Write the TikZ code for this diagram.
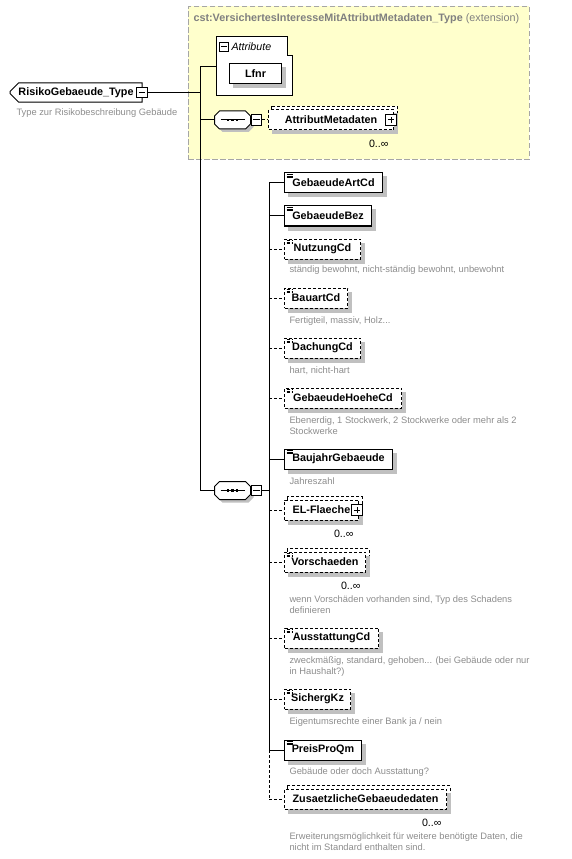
\documentclass[tikz,border=0pt]{standalone}
\usepackage{fontspec}
\setmainfont{Liberation Sans}
\usetikzlibrary{positioning, shapes.misc, backgrounds}

\definecolor{extfill}{HTML}{FFFFCC}
\definecolor{extline}{HTML}{A6A6A6}
\definecolor{shadegrey}{RGB}{192,192,192}
\definecolor{titlegray}{HTML}{808080}
\definecolor{notegray}{HTML}{8C8C8C}

% outline of a sequence compositor, cut corners
\newcommand{\seqoutline}[1]{%
    ([xshift=3.75pt]#1.north west) -- ([xshift=-3.75pt]#1.north east)
    -- ([yshift=-3.75pt]#1.north east) -- ([yshift=3.75pt]#1.south east)
    -- ([xshift=-3.75pt]#1.south east) -- ([xshift=3.75pt]#1.south west)
    -- ([yshift=3.75pt]#1.south west) -- ([yshift=-3.75pt]#1.north west) -- cycle}

\begin{document}
\begin{tikzpicture}[
    x=0.75pt, y=-0.75pt,
    line width=0.75pt,
    optional/.style={dash pattern=on 2.25pt off 1.5pt},
    elembox/.style={
        draw=black, fill=white, anchor=west, inner sep=0pt,
        minimum width=#1, minimum height=15pt,
        font=\fontsize{8.1}{9.7}\selectfont\bfseries
    },
    simple/.style={
        path picture={
            \foreach \k in {0,1,2}
                \draw[black, line width=0.6pt]
                    ([xshift=1.5pt, yshift={-(1.1+1.2*\k)*1pt}]path picture bounding box.north west)
                    -- ++(4.5pt,0pt);
        }
    },
    togglebox/.style={draw=black, fill=white, minimum size=8pt, inner sep=0pt},
    minusbox/.style={togglebox,
        path picture={
            \draw[black] ([xshift=-2.4pt]path picture bounding box.center)
                -- ([xshift=2.4pt]path picture bounding box.center);
        }
    },
    plusbox/.style={togglebox,
        path picture={
            \draw[black] ([xshift=-2.4pt]path picture bounding box.center)
                -- ([xshift=2.4pt]path picture bounding box.center);
            \draw[black] ([yshift=-2.4pt]path picture bounding box.center)
                -- ([yshift=2.4pt]path picture bounding box.center);
        }
    },
    seqbox/.style={
        inner sep=0pt, minimum width=26.25pt, minimum height=12.75pt
    },
    typebox/.style={
        chamfered rectangle, chamfered rectangle xsep=3pt,
        chamfered rectangle corners={north west,south west},
        draw=black, fill=white, inner sep=0pt,
        minimum width=99pt, minimum height=14.25pt,
        font=\fontsize{8.1}{9.7}\selectfont\bfseries
    },
    extbox/.style={
        draw=extline, fill=extfill, dash pattern=on 4pt off 2pt,
        anchor=north west, inner sep=0pt,
        minimum width=255.75pt, minimum height=114.75pt
    },
    shadowbox/.style={fill=shadegrey, draw=none},
    descbox/.style={
        anchor=north west, inner sep=0pt, align=left, text=notegray,
        font=\fontsize{7}{8.25}\selectfont
    },
    occlabel/.style={anchor=east, inner sep=0pt, font=\fontsize{8}{9.6}\selectfont}
]
\useasboundingbox (0,0) rectangle (571,859);

% extension title
\node[anchor=west, inner sep=0pt, text=titlegray, font=\fontsize{8.1}{9.7}\selectfont]
    (exttitle) at (193,19)
    {\textbf{cst:VersichertesInteresseMitAttributMetadaten\_Type} (extension)};

% root type
\node[typebox] (type) at (76,92.5) {RisikoGebaeude\_Type\hspace{8pt}};
\node[minusbox] (typeminus) at (142,92.5) {};
\node[descbox] (typedesc) at (16,108.5) {Type zur Risikobeschreibung Gebäude};

% attributes
\coordinate (attr) at (216,67);
\node[minusbox, minimum size=6.4pt] (attrminus) at (224,47) {};
\node[anchor=west, inner sep=0pt, font=\fontsize{8}{9.6}\selectfont\itshape]
    (attrlabel) at (231,47) {Attribute};
\node[elembox=39pt] (lfnr) at (229,74) {Lfnr};

% sequences
\node[seqbox] (seqa) at (232.5,120) {};
\node[seqbox] (seqb) at (232.5,490.5) {};
\node[seqbox] (seqashadow) at ([shift={(2.25pt,-2.25pt)}]seqa.center) {};
\node[seqbox] (seqbshadow) at ([shift={(2.25pt,-2.25pt)}]seqb.center) {};
\foreach \s in {seqa,seqb} {
    \draw[fill=white] \seqoutline{\s};
    \draw ([xshift=-9pt]\s.center) -- ([xshift=9pt]\s.center);
    \foreach \dx in {-3.4,0,3.4}
        \fill[black] ([shift={(\dx pt,0pt)}]\s.center) ++(-0.9pt,-0.9pt) rectangle ++(1.8pt,1.8pt);
}
\node[minusbox, right=0pt of seqa] (seqaminus) {};
\node[minusbox, right=0pt of seqb] (seqbminus) {};

\node[elembox=93.75pt, optional] (attrmeta) at (268,120) {AttributMetadaten\hspace{6pt}};
\node[plusbox] (attrmetaplus) at ([xshift=-2.25pt]attrmeta.east) {};
\node[occlabel] (attrmetaocc) at ([xshift=-3.75pt, yshift=-9.75pt]attrmeta.south east) {0..∞};

% --- elements ---
\node[elembox=73.5pt, simple] (e1) at (284,183) {GebaeudeArtCd};
\node[elembox=65.25pt, simple] (e2) at (284,216) {GebaeudeBez};
\node[elembox=57pt, simple, optional] (e3) at (284,249) {NutzungCd};
\node[elembox=47.25pt, simple, optional] (e4) at (284,298) {BauartCd};
\node[elembox=57pt, simple, optional] (e5) at (284,348) {DachungCd};
\node[elembox=87.75pt, simple, optional] (e6) at (284,398) {GebaeudeHoeheCd};
\node[elembox=81pt, simple] (e7) at (284,459) {BaujahrGebaeude};
\node[elembox=55.5pt, optional] (e8) at (284,510) {EL-Flaeche\hspace{6pt}};
\node[elembox=60.75pt, simple, optional] (e9) at (284,562) {Vorschaeden};
\node[elembox=70.5pt, simple, optional] (e10) at (284,638) {AusstattungCd};
\node[elembox=49.5pt, simple, optional] (e11) at (284,699) {SichergKz};
\node[elembox=57.75pt, simple] (e12) at (284,750) {PreisProQm};
\node[elembox=121.5pt, optional] (e13) at (284,799) {ZusaetzlicheGebaeudedaten};

\node[plusbox] (e8plus) at ([xshift=-1.5pt]e8.east) {};
\node[occlabel] (e8occ) at ([xshift=-3.75pt, yshift=-9.75pt]e8.south east) {0..∞};
\node[occlabel] (e9occ) at ([xshift=-3.75pt, yshift=-9.75pt]e9.south east) {0..∞};
\node[occlabel] (e13occ) at ([xshift=-3.75pt, yshift=-9.75pt]e13.south east) {0..∞};

% descriptions
\node[descbox] (d3) at (289,265.5) {ständig bewohnt, nicht-ständig bewohnt, unbewohnt};
\node[descbox] (d4) at (289,316.5) {Fertigteil, massiv, Holz...};
\node[descbox] (d5) at (289,366.5) {hart, nicht-hart};
\node[descbox] (d6) at (289,416.5) {Ebenerdig, 1 Stockwerk, 2 Stockwerke oder mehr als 2\\Stockwerke};
\node[descbox] (d7) at (289,477.5) {Jahreszahl};
\node[descbox] (d9) at (289,595.5) {wenn Vorschäden vorhanden sind, Typ des Schadens\\definieren};
\node[descbox] (d10) at (289,656.5) {zweckmäßig, standard, gehoben... (bei Gebäude oder nur\\in Haushalt?)};
\node[descbox] (d11) at (289,717.5) {Eigentumsrechte einer Bank ja / nein};
\node[descbox] (d12) at (289,767.5) {Gebäude oder doch Ausstattung?};
\node[descbox] (d13) at (289,832.5) {Erweiterungsmöglichkeit für weitere benötigte Daten, die\\nicht im Standard enthalten sind.};

% container, attribute group, stacked copies and shadows behind everything
\begin{scope}[on background layer]
    \node[extbox] (ext) at (188,6) {};
    \draw[fill=white] (216,36) -- (287,36) -- (287,55) -- (292,55) -- (292,95) -- (216,95) -- cycle;
    \foreach \n in {attrmeta,e8,e9,e13}
        \draw[optional, fill=white] ([xshift=2.25pt, yshift=2.25pt]\n.north west)
            rectangle ([xshift=2.25pt, yshift=2.25pt]\n.south east);
    \foreach \n in {lfnr,attrmeta,e1,e2,e3,e4,e5,e6,e7,e8,e9,e10,e11,e12,e13}
        \path[shadowbox] ([xshift=3pt, yshift=-3pt]\n.north west)
            rectangle ([xshift=3pt, yshift=-3pt]\n.south east);
    \fill[shadowbox] \seqoutline{seqashadow};
    \fill[shadowbox] \seqoutline{seqbshadow};
\end{scope}

% --- connectors ---
\coordinate (tr) at (200,0);
\coordinate (br) at (269,0);
\draw (typeminus.east) -- (typeminus.east -| tr);
\draw (attr -| tr) -- (seqb.west -| tr);
\draw (attr -| tr) -- (attr);
\draw (seqa.west -| tr) -- (seqa.west);
\draw (seqb.west -| tr) -- (seqb.west);
\draw[optional] (seqaminus.east) -- (attrmeta.west);
\draw (seqbminus.east) -- (seqbminus.east -| br);
\draw (e1.west -| br) -- (e12.west -| br);
\draw[optional] (e12.west -| br) -- (e13.west -| br);
\foreach \n in {1,2,7,12}
    \draw (e\n.west -| br) -- (e\n.west);
\foreach \n in {3,4,5,6,8,9,10,11,13}
    \draw[optional] (e\n.west -| br) -- (e\n.west);

\end{tikzpicture}
\end{document}
